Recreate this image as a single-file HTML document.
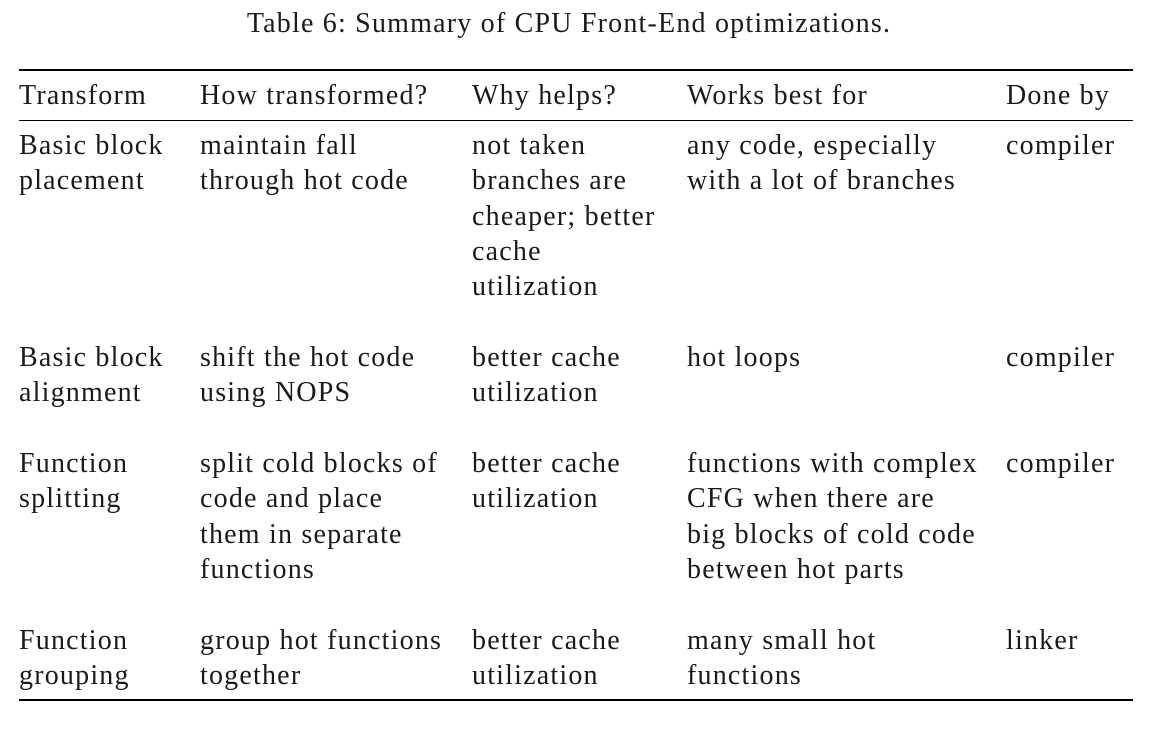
<!DOCTYPE html>
<html><head><meta charset="utf-8"><style>
html,body{margin:0;padding:0;background:#fff;}
body{width:1162px;height:737px;position:relative;overflow:hidden;font-family:"Liberation Serif",serif;color:#1a1a1a;font-size:28px;letter-spacing:1.2px;}
.t{position:absolute;line-height:35.3px;white-space:nowrap;}
.rule{position:absolute;left:19px;width:1114px;background:#000;}
</style></head><body>
<div class="t" style="left:0;width:1138px;text-align:center;top:6px;">Table 6: Summary of CPU Front-End optimizations.</div>
<div class="rule" style="top:69px;height:2px;"></div>
<div class="rule" style="top:120px;height:1px;"></div>
<div class="rule" style="top:699px;height:2px;"></div>

<div class="t" style="left:19px;top:78px;">Transform</div>
<div class="t" style="left:200px;top:78px;">How transformed?</div>
<div class="t" style="left:472px;top:78px;">Why helps?</div>
<div class="t" style="left:687px;top:78px;">Works best for</div>
<div class="t" style="left:1006px;top:78px;">Done by</div>

<div class="t" style="left:19px;top:128px;">Basic block<br>placement</div>
<div class="t" style="left:200px;top:128px;">maintain fall<br>through hot code</div>
<div class="t" style="left:472px;top:128px;">not taken<br>branches are<br>cheaper; better<br>cache<br>utilization</div>
<div class="t" style="left:687px;top:128px;">any code, especially<br>with a lot of branches</div>
<div class="t" style="left:1006px;top:128px;">compiler</div>

<div class="t" style="left:19px;top:340px;">Basic block<br>alignment</div>
<div class="t" style="left:200px;top:340px;">shift the hot code<br>using NOPS</div>
<div class="t" style="left:472px;top:340px;">better cache<br>utilization</div>
<div class="t" style="left:687px;top:340px;">hot loops</div>
<div class="t" style="left:1006px;top:340px;">compiler</div>

<div class="t" style="left:19px;top:446px;">Function<br>splitting</div>
<div class="t" style="left:200px;top:446px;">split cold blocks of<br>code and place<br>them in separate<br>functions</div>
<div class="t" style="left:472px;top:446px;">better cache<br>utilization</div>
<div class="t" style="left:687px;top:446px;">functions with complex<br>CFG when there are<br>big blocks of cold code<br>between hot parts</div>
<div class="t" style="left:1006px;top:446px;">compiler</div>

<div class="t" style="left:19px;top:623px;">Function<br>grouping</div>
<div class="t" style="left:200px;top:623px;">group hot functions<br>together</div>
<div class="t" style="left:472px;top:623px;">better cache<br>utilization</div>
<div class="t" style="left:687px;top:623px;">many small hot<br>functions</div>
<div class="t" style="left:1006px;top:623px;">linker</div>
</body></html>
